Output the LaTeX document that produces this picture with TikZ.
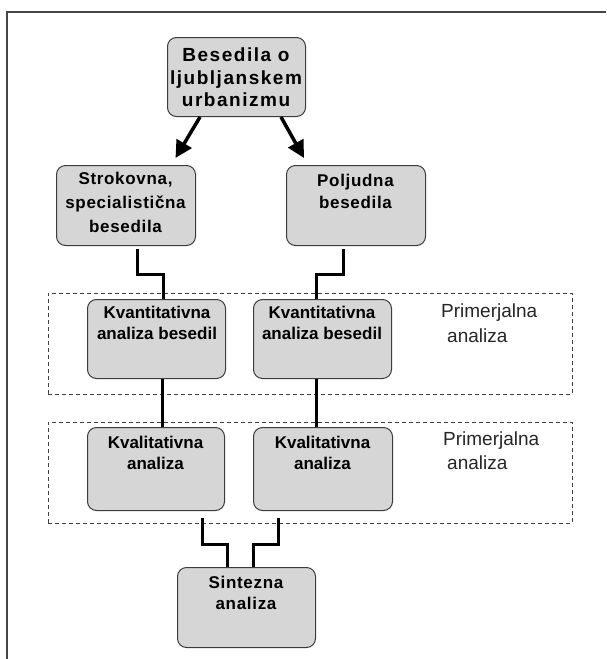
\documentclass[tikz,border=0pt]{standalone}
\usepackage{fontspec}
\setmainfont{Liberation Sans}
\newfontfamily\widefont[LetterSpace=8]{Liberation Sans}
\newfontfamily\midfont[LetterSpace=4]{Liberation Sans}
\usetikzlibrary{arrows.meta}
\definecolor{boxfill}{RGB}{214,214,214}
\definecolor{boxline}{RGB}{60,60,60}
\definecolor{frameline}{RGB}{70,70,70}
\begin{document}
\begin{tikzpicture}[x=1pt,y=-1pt,
  box/.style={draw=boxline, line width=1pt, fill=boxfill, rounded corners=9pt,
    inner sep=0pt, anchor=north west},
  btxt/.style={inner sep=0pt, align=center, font=\bfseries\fontsize{17}{21}\selectfont},
  gtxt/.style={inner sep=0pt, anchor=base west, font=\fontsize{19}{24}\selectfont, text=black!85},
  dashbox/.style={draw=black!75, line width=0.8pt, dash pattern=on 4pt off 3pt,
    inner sep=0pt, anchor=north west},
  conn/.style={draw=black, line width=3pt},
  arr/.style={draw=black, line width=3.5pt, -{Triangle[length=17pt,width=17pt]}}]
\useasboundingbox (0,0) rectangle (606,659);
\fill[white] (0,0) rectangle (606,659);
% frame
\draw[frameline, line width=1.2pt] (7,659) -- (7,12) -- (606,12);
% groups
\node[dashbox, minimum width=524pt, minimum height=101pt] (g1) at (48,293) {};
\node[dashbox, minimum width=524pt, minimum height=101pt] (g2) at (48,422) {};
% boxes
\node[box, minimum width=138pt, minimum height=79pt] (b0) at (167,37) {};
\node[box, minimum width=139pt, minimum height=80pt] (s1) at (56,165) {};
\node[box, minimum width=139pt, minimum height=80pt] (p1) at (286,165) {};
\node[box, minimum width=138pt, minimum height=79pt] (kv1) at (87,299) {};
\node[box, minimum width=138pt, minimum height=79pt] (kv2) at (253,299) {};
\node[box, minimum width=137pt, minimum height=83pt] (kl1) at (87,427) {};
\node[box, minimum width=139pt, minimum height=83pt] (kl2) at (253,427) {};
\node[box, minimum width=138pt, minimum height=80pt] (sz) at (177,567) {};
% texts
\node[btxt, font=\bfseries\widefont\fontsize{19}{22.5}\selectfont] (b0t) at (236,77.5) {Besedila o\\ljubljanskem\\urbanizmu};
\node[btxt, font=\bfseries\midfont\fontsize{17}{24}\selectfont] (s1t) at (125.5,202) {Strokovna,\\specialistična\\besedila};
\node[btxt, font=\bfseries\midfont\fontsize{17}{22}\selectfont] (p1t) at (355.5,191) {Poljudna\\besedila};
\node[btxt] (kv1t) at (157,323) {Kvantitativna\\analiza besedil};
\node[btxt] (kv2t) at (322,323) {Kvantitativna\\analiza besedil};
\node[btxt] (kl1t) at (155.5,452.5) {Kvalitativna\\analiza};
\node[btxt] (kl2t) at (322.5,452.5) {Kvalitativna\\analiza};
\node[btxt, font=\bfseries\midfont\fontsize{17}{21}\selectfont] (szt) at (246,592.5) {Sintezna\\analiza};
% group labels
\node[gtxt] (g1a) at (441,317) {Primerjalna};
\node[gtxt] (g1b) at (447,342) {analiza};
\node[gtxt] (g2a) at (443,445) {Primerjalna};
\node[gtxt] (g2b) at (447,469) {analiza};
% arrows
\draw[arr] ([xshift=33pt]b0.south west) -- ([xshift=49.5pt,yshift=7pt]s1.north);
\draw[arr] ([xshift=-25pt]b0.south east) -- ([xshift=18pt,yshift=7pt]p1.north west);
% elbow connectors
\draw[conn] ([xshift=11.5pt,yshift=-3pt]s1.south) -- ++(0,25) -| ([xshift=7pt]kv1.north);
\draw[conn] ([xshift=-12.5pt,yshift=-3pt]p1.south) -- ++(0,25) -| ([xshift=-6pt]kv2.north);
\draw[conn] ([xshift=6pt]kv1.south) -- ([xshift=6pt]kv1.south |- kl1.north);
\draw[conn] ([xshift=-6pt]kv2.south) -- ([xshift=-6pt]kv2.south |- kl2.north);
\draw[conn] ([xshift=-23pt,yshift=-7pt]kl1.south east) -- ++(0,26) -| ([xshift=-19pt]sz.north);
\draw[conn] ([xshift=25pt,yshift=-7pt]kl2.south west) -- ++(0,26) -| ([xshift=7pt]sz.north);
\end{tikzpicture}
\end{document}
